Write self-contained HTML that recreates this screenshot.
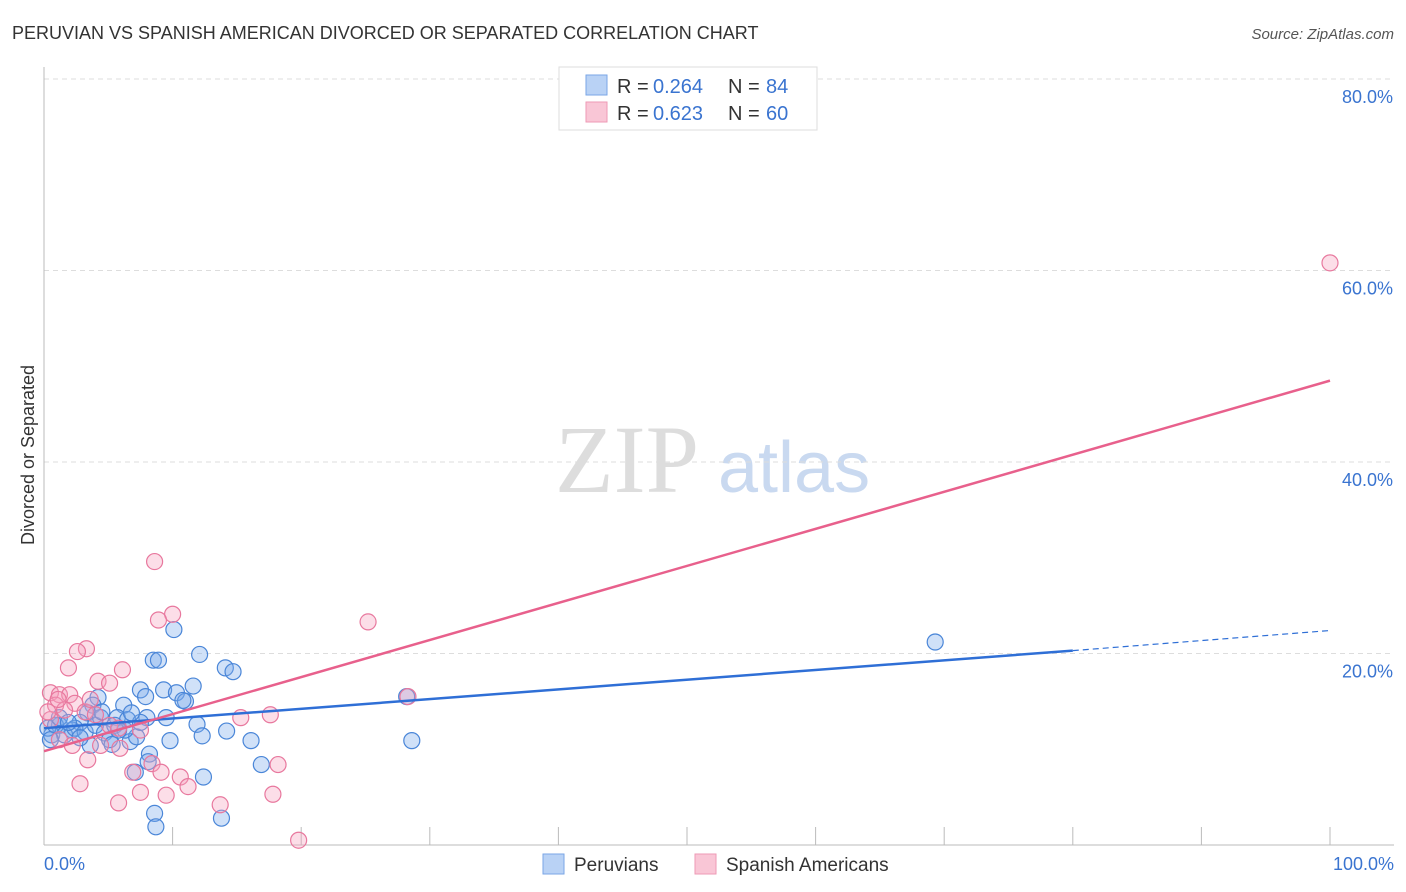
<!DOCTYPE html>
<html><head><meta charset="utf-8"><style>
body{margin:0;background:#fff;font-family:"Liberation Sans",sans-serif;}
svg{display:block}
</style></head><body>
<svg id="chart" width="1406" height="892" viewBox="0 0 1406 892">
<text x="12" y="39" font-size="18" fill="#333">PERUVIAN VS SPANISH AMERICAN DIVORCED OR SEPARATED CORRELATION CHART</text>
<text x="1394" y="39" font-size="15" fill="#555" font-style="italic" text-anchor="end">Source: ZipAtlas.com</text>
<text x="555" y="492" font-size="96" fill="#ddd" font-family="Liberation Serif,serif">ZIP</text>
<text x="718" y="492" font-size="72" fill="#c9d9f0">atlas</text>
<g id="grid"></g><g id="axes"></g><g id="points"></g><g id="lines"></g>
<text transform="translate(34,455) rotate(-90)" font-size="18" fill="#333" text-anchor="middle">Divorced or Separated</text>
<text x="44" y="870" font-size="18" fill="#3a74d0">0.0%</text>
<text x="1394" y="870" font-size="18" fill="#3a74d0" text-anchor="end">100.0%</text>
<g>
<rect x="559" y="67" width="258" height="63" fill="#fff" stroke="#ddd"/>
<rect x="586" y="75" width="21" height="20" fill="#b9d2f5" stroke="#7aa6e6"/>
<rect x="586" y="102" width="21" height="20" fill="#f9c6d6" stroke="#ee9ab5"/>
<text x="617" y="93" font-size="20" fill="#333">R =</text>
<text x="653" y="93" font-size="20" fill="#3a74d0">0.264</text>
<text x="728" y="93" font-size="20" fill="#333">N =</text>
<text x="766" y="93" font-size="20" fill="#3a74d0">84</text>
<text x="617" y="120" font-size="20" fill="#333">R =</text>
<text x="653" y="120" font-size="20" fill="#3a74d0">0.623</text>
<text x="728" y="120" font-size="20" fill="#333">N =</text>
<text x="766" y="120" font-size="20" fill="#3a74d0">60</text>
</g>
<g>
<rect x="543" y="854" width="21" height="20" fill="#b9d2f5" stroke="#7aa6e6"/>
<text x="574" y="871" font-size="19" fill="#333">Peruvians</text>
<rect x="695" y="854" width="21" height="20" fill="#f9c6d6" stroke="#ee9ab5"/>
<text x="726" y="871" font-size="19" fill="#333">Spanish Americans</text>
</g>
</svg>
<script>
const yTicks=[20,40,60,80];
const xTicks=[0,10,20,30,40,50,60,70,80,90,100];
const blueX=[69.3,28.2,28.6,10.1,8.5,8.9,12.1,14.1,14.7,7.5,9.3,10.3,11.0,10.8,11.6,7.9,9.5,11.9,12.3,9.8,14.2,16.1,16.9,12.4,13.8,8.6,8.7,8.2,8.1,7.1,6.7,7.2,8.0,6.2,5.7,4.2,3.8,3.4,2.8,2.2,1.2,0.6,0.3,0.9,1.6,2.4,3.2,4.0,4.7,5.5,6.3,5.1,4.4,6.5,3.6,5.3,1.2,0.5,1.9,5.8,7.5,6.8,2.8,4.5];
const blueY=[21.2,15.5,10.9,22.5,19.3,19.3,19.9,18.5,18.1,16.2,16.2,15.9,15.0,15.1,16.6,15.5,13.3,12.6,11.4,10.9,11.9,10.9,8.4,7.1,2.8,3.3,1.9,9.5,8.7,7.6,10.8,11.3,13.3,14.6,13.3,15.4,14.6,13.8,12.8,12.0,12.5,11.5,12.2,12.5,11.5,12.2,11.8,12.5,11.7,12.5,12.0,11.0,13.3,13.1,10.4,10.5,13.3,11.0,12.8,12.0,12.8,13.8,11.2,13.9];
const pinkX=[100,8.6,10.0,8.9,25.2,3.3,2.6,1.9,6.1,4.2,5.1,28.3,17.6,15.3,5.9,3.4,6.9,8.4,9.1,10.6,11.2,9.5,7.5,5.8,2.8,13.7,17.8,18.2,19.8,0.5,1.2,2.0,2.4,0.9,1.6,3.2,4.0,0.5,5.1,1.2,2.2,5.8,7.5,4.4,0.3,1.1,3.6];
const pinkY=[60.8,29.6,24.1,23.5,23.3,20.5,20.2,18.5,18.3,17.1,16.9,15.5,13.6,13.3,10.1,8.9,7.6,8.5,7.6,7.1,6.1,5.2,5.5,4.4,6.4,4.2,5.3,8.4,0.5,15.9,15.7,15.7,14.8,14.6,14.1,13.9,13.6,13.1,12.5,11.0,10.4,12.2,12.0,10.4,13.9,15.2,15.2];
const blueTrend=[12.2,20.3,22.4];
const pinkTrend=[9.8,48.5];
const X=v=>44+v*12.86, Y=v=>845-v*9.575;
const NS="http://www.w3.org/2000/svg";
function mk(p,t,a){const e=document.createElementNS(NS,t);for(const k in a)e.setAttribute(k,a[k]);p.appendChild(e);return e;}
const grid=document.getElementById('grid'),axes=document.getElementById('axes'),pts=document.getElementById('points'),lines=document.getElementById('lines');
yTicks.forEach(t=>{
 const l=mk(grid,'line',{x1:44,x2:1394,y1:Y(t),y2:Y(t),stroke:'#ddd','stroke-dasharray':'5,4'});
 
 
 const tx=mk(grid,'text',{x:1393,y:Y(t)+24,'font-size':18,fill:'#3a74d0','text-anchor':'end'});
 tx.textContent=t.toFixed(1)+'%';
 
 
});
const topGrid=mk(grid,'line',{x1:44,x2:1394,y1:79,y2:79,stroke:'#ddd','stroke-dasharray':'5,4'});


const ya=mk(axes,'line',{x1:44,x2:44,y1:67,y2:845,stroke:'#bbb'});


const xa=mk(axes,'line',{x1:44,x2:1394,y1:845,y2:845,stroke:'#bbb'});


xTicks.forEach(t=>{
 const l=mk(axes,'line',{x1:X(t),x2:X(t),y1:827,y2:845,stroke:'#bbb'});
 
 
});
blueX.forEach((v,i)=>{
 const c=mk(pts,'circle',{cx:X(v),cy:Y(blueY[i]),r:8,fill:'rgba(120,170,235,0.35)',stroke:'#4a86d8','stroke-width':1.2});
 
 
});
pinkX.forEach((v,i)=>{
 const c=mk(pts,'circle',{cx:X(v),cy:Y(pinkY[i]),r:8,fill:'rgba(245,160,190,0.35)',stroke:'#e8789e','stroke-width':1.2});
 
 
});
const b1=mk(lines,'line',{x1:X(0),y1:Y(blueTrend[0]),x2:X(80),y2:Y(blueTrend[1]),stroke:'#2f6fd6','stroke-width':2.5});


const b2=mk(lines,'line',{x1:X(80),y1:Y(blueTrend[1]),x2:X(100),y2:Y(blueTrend[2]),stroke:'#2f6fd6','stroke-width':1.2,'stroke-dasharray':'6,4'});


const p1=mk(lines,'line',{x1:X(0),y1:Y(pinkTrend[0]),x2:X(100),y2:Y(pinkTrend[1]),stroke:'#e8608c','stroke-width':2.5});


</script>
</body></html>
